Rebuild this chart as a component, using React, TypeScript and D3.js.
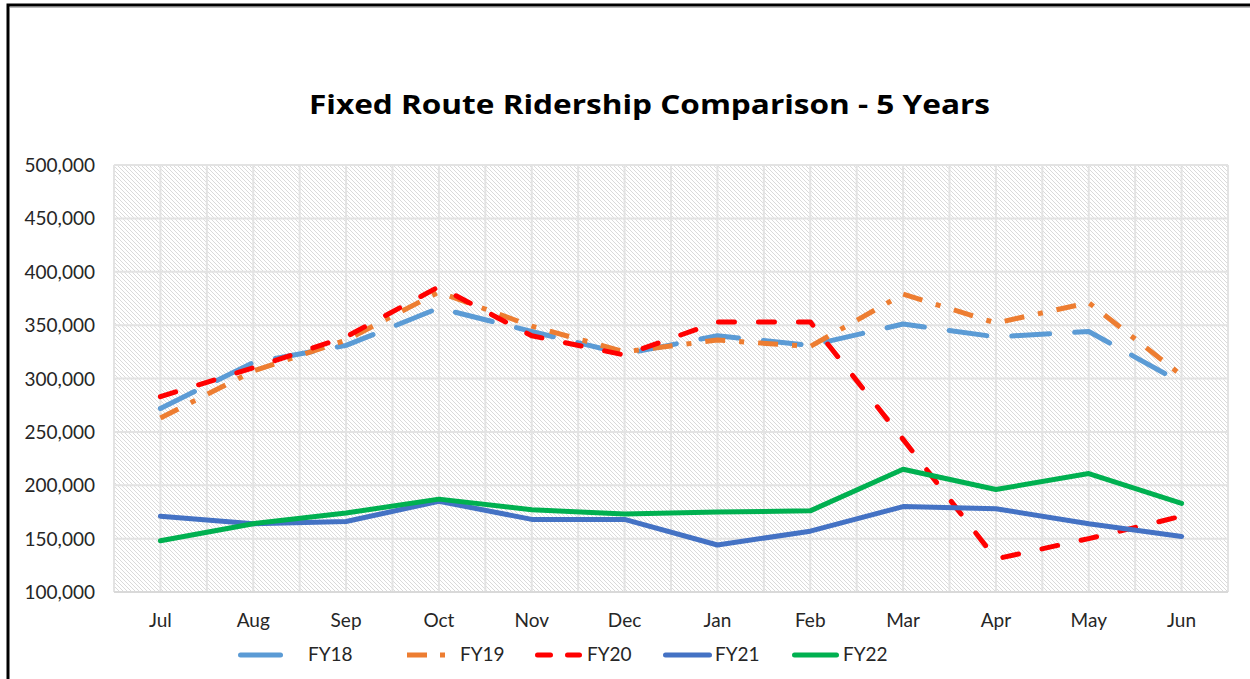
import React from "react";
import * as d3 from "d3";

const months = ["Jul", "Aug", "Sep", "Oct", "Nov", "Dec", "Jan", "Feb", "Mar", "Apr", "May", "Jun"];
const fy18 = [272000, 315000, 331000, 366000, 344000, 323000, 340000, 331000, 351000, 339000, 344000, 296000];
const fy19 = [263000, 307000, 336000, 381000, 349000, 325000, 336000, 330000, 379000, 352000, 371000, 303000];
const fy20 = [283000, 310000, 339000, 386000, 340000, 322000, 353000, 353000, 243000, 131000, 150000, 171000];
const fy21 = [171000, 164000, 166000, 185000, 168000, 168000, 144000, 157000, 180000, 178000, 164000, 152000];
const fy22 = [148000, 164000, 174000, 187000, 177000, 173000, 175000, 176000, 215000, 196000, 211000, 183000];
const yTicks = [100000, 150000, 200000, 250000, 300000, 350000, 400000, 450000, 500000];
const seriesNames = ["FY18", "FY19", "FY20", "FY21", "FY22"];
const title = "Fixed Route Ridership Comparison - 5 Years";

const W = 1250;
const H = 679;
const plot = { left: 114, right: 1228, top: 165, bottom: 592 };

const styles = [
  { color: "#5B9BD5", dash: "38,25", cap: "round" },
  { color: "#ED7D31", dash: "20,14,5,14", cap: "butt" },
  { color: "#FF0000", dash: "16,24", cap: "round" },
  { color: "#4472C4", dash: "none", cap: "round" },
  { color: "#00B050", dash: "none", cap: "round" },
];
const legendSampleX = [238, 407, 535, 663, 792];
const legendTextX = [308, 460, 587, 715, 843];
const legendSampleW = [45, 38, 47, 49, 47];
const legendDash = ["none", "20,13,5,100", "13,17", "none", "none"];

export default function App() {
  const values = [fy18, fy19, fy20, fy21, fy22];
  const x = d3.scalePoint<string>().domain(months).range([plot.left, plot.right]).padding(0.5);
  const y = d3.scaleLinear().domain([100000, 500000]).range([plot.bottom, plot.top]);
  const step = x.step();
  const vLines: number[] = [];
  for (let i = 0; i <= months.length * 2; i++) vLines.push(plot.left + (i * step) / 2);
  const line = d3
    .line<number>()
    .x((_, i) => x(months[i]) as number)
    .y((d) => y(d));
  const fmt = d3.format(",");
  const font = "Lato, 'Open Sans', sans-serif";

  return (
    <div style={{ position: "absolute", left: 0, top: 0 }}>
      <svg width={W} height={H} style={{ display: "block" }}>
        <defs>
          <pattern id="hatch" width={4} height={4} patternUnits="userSpaceOnUse">
            <rect width={4} height={4} fill="#ffffff" />
            <path d="M-1,-1 L5,5 M-1,3 L1,5 M3,-1 L5,1" stroke="#dadada" strokeWidth={1} />
          </pattern>
        </defs>
        <rect x={0} y={0} width={W} height={H} fill="#ffffff" />
        <rect x={8} y={5} width={W + 20} height={H + 20} fill="none" stroke="#000" strokeWidth={3} />
        <line x1={10} x2={W} y1={7.5} y2={7.5} stroke="#bbb" strokeWidth={1} />
        <text
          x={309}
          y={114}
          textLength={681}
          lengthAdjust="spacingAndGlyphs"
          fontFamily="'Open Sans', Lato, sans-serif"
          fontWeight="bold"
          fontSize={27}
          fill="#000"
        >
          {title}
        </text>
        <rect
          x={plot.left}
          y={plot.top}
          width={plot.right - plot.left}
          height={plot.bottom - plot.top}
          fill="url(#hatch)"
        />
        {yTicks.map((t) => (
          <line key={"h" + t} x1={plot.left} x2={plot.right} y1={y(t)} y2={y(t)} stroke="#e3e3e3" strokeWidth={2} />
        ))}
        {vLines.map((v, i) => (
          <line key={"v" + i} x1={v} x2={v} y1={plot.top} y2={plot.bottom} stroke="#e3e3e3" strokeWidth={2} />
        ))}
        <line x1={plot.left} x2={plot.right} y1={plot.bottom} y2={plot.bottom} stroke="#d9d9d9" strokeWidth={2} />
        {yTicks.map((t) => (
          <text
            key={"yl" + t}
            x={95}
            y={y(t) + 7}
            textAnchor="end"
            fontFamily={font}
            fontSize={19}
            fill="#262626"
          >
            {fmt(t)}
          </text>
        ))}
        {months.map((m) => (
          <text
            key={"xl" + m}
            x={x(m) as number}
            y={627}
            textAnchor="middle"
            fontFamily={font}
            fontSize={19}
            fill="#262626"
          >
            {m}
          </text>
        ))}
        {values.map((vals, i) => (
          <path
            key={"s" + i}
            d={line(vals) || ""}
            fill="none"
            stroke={styles[i].color}
            strokeWidth={5}
            strokeDasharray={styles[i].dash}
            strokeLinecap={styles[i].cap as any}
            strokeLinejoin="round"
          />
        ))}
        {seriesNames.map((name, i) => {
          const inset = styles[i].cap === "round" ? 2.5 : 0;
          return (
            <g key={"lg" + name}>
              <line
                x1={legendSampleX[i] + inset}
                x2={legendSampleX[i] + legendSampleW[i] - inset}
                y1={655}
                y2={655}
                stroke={styles[i].color}
                strokeWidth={5}
                strokeDasharray={legendDash[i]}
                strokeLinecap={styles[i].cap as any}
              />
              <text x={legendTextX[i]} y={661} fontFamily={font} fontSize={19} fill="#262626">
                {name}
              </text>
            </g>
          );
        })}
      </svg>
    </div>
  );
}
